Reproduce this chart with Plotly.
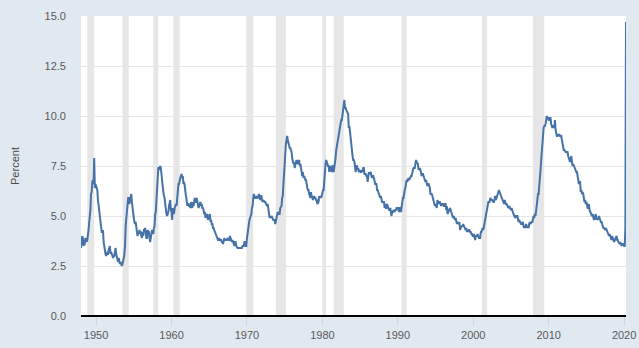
import pandas as pd
import plotly.graph_objects as go

# Civilian unemployment rate, monthly, seasonally adjusted (percent)
rate_1948_1959 = [
    [3.4, 3.8, 4.0, 3.9, 3.5, 3.6, 3.6, 3.9, 3.8, 3.7, 3.8, 4.0],
    [4.3, 4.7, 5.0, 5.3, 6.1, 6.2, 6.7, 6.8, 6.6, 7.9, 6.4, 6.6],
    [6.5, 6.4, 6.3, 5.8, 5.5, 5.4, 5.0, 4.5, 4.4, 4.2, 4.2, 4.3],
    [3.7, 3.4, 3.4, 3.1, 3.0, 3.2, 3.1, 3.1, 3.3, 3.5, 3.5, 3.1],
    [3.2, 3.1, 2.9, 2.9, 3.0, 3.0, 3.2, 3.4, 3.1, 3.0, 2.8, 2.7],
    [2.9, 2.6, 2.6, 2.7, 2.5, 2.5, 2.6, 2.7, 2.9, 3.1, 3.5, 4.5],
    [4.9, 5.2, 5.7, 5.9, 5.9, 5.6, 5.8, 6.0, 6.1, 5.7, 5.3, 5.0],
    [4.9, 4.7, 4.6, 4.7, 4.3, 4.2, 4.0, 4.2, 4.1, 4.3, 4.2, 4.2],
    [4.0, 3.9, 4.2, 4.0, 4.3, 4.3, 4.4, 4.1, 3.9, 3.9, 4.3, 4.2],
    [4.2, 3.9, 3.7, 3.9, 4.1, 4.3, 4.2, 4.1, 4.4, 4.5, 5.1, 5.2],
    [5.8, 6.4, 6.7, 7.4, 7.4, 7.3, 7.5, 7.4, 7.1, 6.7, 6.2, 6.2],
    [6.0, 5.9, 5.6, 5.2, 5.1, 5.0, 5.1, 5.2, 5.5, 5.7, 5.8, 5.3],
]
rate_1960_1969 = [
    [5.2, 4.8, 5.4, 5.2, 5.1, 5.4, 5.5, 5.6, 5.5, 6.1, 6.1, 6.6],
    [6.6, 6.9, 6.9, 7.0, 7.1, 6.9, 7.0, 6.6, 6.7, 6.5, 6.1, 6.0],
    [5.8, 5.5, 5.6, 5.6, 5.5, 5.5, 5.4, 5.7, 5.6, 5.4, 5.7, 5.5],
    [5.7, 5.9, 5.7, 5.7, 5.9, 5.6, 5.6, 5.4, 5.5, 5.5, 5.7, 5.5],
    [5.6, 5.4, 5.4, 5.3, 5.1, 5.2, 4.9, 5.0, 5.1, 5.1, 4.8, 5.0],
    [4.9, 5.1, 4.7, 4.8, 4.6, 4.6, 4.4, 4.4, 4.3, 4.2, 4.1, 4.0],
    [4.0, 3.8, 3.8, 3.8, 3.9, 3.8, 3.8, 3.8, 3.7, 3.7, 3.6, 3.8],
    [3.9, 3.8, 3.8, 3.8, 3.8, 3.9, 3.8, 3.8, 3.8, 4.0, 3.9, 3.8],
    [3.7, 3.8, 3.7, 3.5, 3.5, 3.7, 3.7, 3.5, 3.4, 3.4, 3.4, 3.4],
    [3.4, 3.4, 3.4, 3.4, 3.4, 3.5, 3.5, 3.5, 3.7, 3.7, 3.5, 3.5],
]
rate_1970_1979 = [
    [3.9, 4.2, 4.4, 4.6, 4.8, 4.9, 5.0, 5.1, 5.4, 5.5, 5.9, 6.1],
    [5.9, 5.9, 6.0, 5.9, 5.9, 5.9, 6.0, 6.1, 6.0, 5.8, 6.0, 6.0],
    [5.8, 5.7, 5.8, 5.7, 5.7, 5.7, 5.6, 5.6, 5.5, 5.6, 5.3, 5.2],
    [4.9, 5.0, 4.9, 5.0, 4.9, 4.9, 4.8, 4.8, 4.8, 4.6, 4.8, 4.9],
    [5.1, 5.2, 5.1, 5.1, 5.1, 5.4, 5.5, 5.5, 5.9, 6.0, 6.6, 7.2],
    [8.1, 8.1, 8.6, 8.8, 9.0, 8.8, 8.6, 8.4, 8.4, 8.4, 8.3, 8.2],
    [7.9, 7.7, 7.6, 7.7, 7.4, 7.6, 7.8, 7.8, 7.6, 7.7, 7.8, 7.8],
    [7.5, 7.6, 7.4, 7.2, 7.0, 7.2, 6.9, 7.0, 6.8, 6.8, 6.8, 6.4],
    [6.4, 6.3, 6.3, 6.1, 6.0, 5.9, 6.2, 5.9, 6.0, 5.8, 5.9, 6.0],
    [5.9, 5.9, 5.8, 5.8, 5.6, 5.7, 5.7, 6.0, 5.9, 6.0, 5.9, 6.0],
]
rate_1980_1989 = [
    [6.3, 6.3, 6.3, 6.9, 7.5, 7.6, 7.8, 7.7, 7.5, 7.5, 7.5, 7.2],
    [7.5, 7.4, 7.4, 7.2, 7.5, 7.5, 7.2, 7.4, 7.6, 7.9, 8.3, 8.5],
    [8.6, 8.9, 9.0, 9.3, 9.4, 9.6, 9.8, 9.8, 10.1, 10.4, 10.8, 10.8],
    [10.4, 10.4, 10.3, 10.2, 10.1, 10.1, 9.4, 9.5, 9.2, 8.8, 8.5, 8.3],
    [8.0, 7.8, 7.8, 7.7, 7.4, 7.2, 7.5, 7.5, 7.3, 7.4, 7.2, 7.3],
    [7.3, 7.2, 7.2, 7.3, 7.2, 7.4, 7.4, 7.1, 7.1, 7.1, 7.0, 7.0],
    [6.7, 7.2, 7.2, 7.1, 7.2, 7.2, 7.0, 6.9, 7.0, 7.0, 6.9, 6.6],
    [6.6, 6.6, 6.6, 6.3, 6.3, 6.2, 6.1, 6.0, 5.9, 6.0, 5.8, 5.7],
    [5.7, 5.7, 5.7, 5.4, 5.6, 5.4, 5.4, 5.6, 5.4, 5.4, 5.3, 5.3],
    [5.4, 5.2, 5.0, 5.2, 5.2, 5.3, 5.2, 5.2, 5.3, 5.3, 5.4, 5.4],
]
rate_1990_1999 = [
    [5.4, 5.3, 5.2, 5.4, 5.4, 5.2, 5.5, 5.7, 5.9, 5.9, 6.2, 6.3],
    [6.4, 6.6, 6.8, 6.7, 6.9, 6.9, 6.8, 6.9, 6.9, 7.0, 7.0, 7.3],
    [7.3, 7.4, 7.4, 7.4, 7.6, 7.8, 7.7, 7.6, 7.6, 7.3, 7.4, 7.4],
    [7.3, 7.1, 7.0, 7.1, 7.1, 7.0, 6.9, 6.8, 6.7, 6.8, 6.6, 6.5],
    [6.6, 6.6, 6.5, 6.4, 6.1, 6.1, 6.1, 6.0, 5.9, 5.8, 5.6, 5.5],
    [5.6, 5.4, 5.4, 5.8, 5.6, 5.6, 5.7, 5.7, 5.6, 5.5, 5.6, 5.6],
    [5.6, 5.5, 5.5, 5.6, 5.6, 5.3, 5.5, 5.1, 5.2, 5.2, 5.4, 5.4],
    [5.3, 5.2, 5.2, 5.1, 4.9, 5.0, 4.9, 4.8, 4.9, 4.7, 4.6, 4.7],
    [4.6, 4.6, 4.7, 4.3, 4.4, 4.5, 4.5, 4.5, 4.6, 4.5, 4.4, 4.4],
    [4.3, 4.4, 4.2, 4.3, 4.2, 4.3, 4.3, 4.2, 4.2, 4.1, 4.1, 4.0],
]
rate_2000_2009 = [
    [4.0, 4.1, 4.0, 3.8, 4.0, 4.0, 4.0, 4.1, 3.9, 3.9, 3.9, 3.9],
    [4.2, 4.2, 4.3, 4.4, 4.3, 4.5, 4.6, 4.9, 5.0, 5.3, 5.5, 5.7],
    [5.7, 5.7, 5.7, 5.9, 5.8, 5.8, 5.8, 5.7, 5.7, 5.7, 5.9, 6.0],
    [5.8, 5.9, 5.9, 6.0, 6.1, 6.3, 6.2, 6.1, 6.1, 6.0, 5.8, 5.7],
    [5.7, 5.6, 5.8, 5.6, 5.6, 5.6, 5.5, 5.4, 5.4, 5.5, 5.4, 5.4],
    [5.3, 5.4, 5.2, 5.2, 5.1, 5.0, 5.0, 4.9, 5.0, 5.0, 5.0, 4.9],
    [4.7, 4.8, 4.7, 4.7, 4.6, 4.6, 4.7, 4.7, 4.5, 4.4, 4.5, 4.4],
    [4.6, 4.5, 4.4, 4.5, 4.4, 4.6, 4.7, 4.6, 4.7, 4.7, 4.7, 5.0],
    [5.0, 4.9, 5.1, 5.0, 5.4, 5.6, 5.8, 6.1, 6.1, 6.5, 6.8, 7.3],
    [7.8, 8.3, 8.7, 9.0, 9.4, 9.5, 9.5, 9.6, 9.8, 10.0, 9.9, 9.9],
]
rate_2010_2020 = [
    [9.8, 9.8, 9.9, 9.9, 9.6, 9.4, 9.4, 9.5, 9.5, 9.4, 9.8, 9.3],
    [9.1, 9.0, 9.0, 9.1, 9.0, 9.1, 9.0, 9.0, 9.0, 8.8, 8.6, 8.5],
    [8.3, 8.3, 8.2, 8.2, 8.2, 8.2, 8.2, 8.0, 7.8, 7.8, 7.7, 7.9],
    [8.0, 7.7, 7.5, 7.6, 7.5, 7.5, 7.3, 7.2, 7.2, 7.2, 6.9, 6.7],
    [6.6, 6.7, 6.7, 6.2, 6.3, 6.1, 6.2, 6.1, 5.9, 5.7, 5.8, 5.6],
    [5.7, 5.5, 5.4, 5.4, 5.6, 5.3, 5.2, 5.1, 5.0, 5.0, 5.1, 5.0],
    [4.8, 4.9, 5.0, 5.1, 4.8, 4.9, 4.8, 4.9, 5.0, 4.9, 4.7, 4.7],
    [4.7, 4.6, 4.4, 4.4, 4.4, 4.3, 4.3, 4.4, 4.3, 4.2, 4.2, 4.1],
    [4.0, 4.1, 4.0, 4.0, 3.8, 4.0, 3.8, 3.8, 3.7, 3.8, 3.8, 3.9],
    [4.0, 3.8, 3.8, 3.7, 3.6, 3.6, 3.7, 3.6, 3.5, 3.6, 3.6, 3.6],
    [3.5, 3.5, 4.4, 14.7],
]

# NBER recession periods (peak month, trough month)
recessions = [
    ("1948-11-01", "1949-10-01"),
    ("1953-07-01", "1954-05-01"),
    ("1957-08-01", "1958-04-01"),
    ("1960-04-01", "1961-02-01"),
    ("1969-12-01", "1970-11-01"),
    ("1973-11-01", "1975-03-01"),
    ("1980-01-01", "1980-07-01"),
    ("1981-07-01", "1982-11-01"),
    ("1990-07-01", "1991-03-01"),
    ("2001-03-01", "2001-11-01"),
    ("2007-12-01", "2009-06-01"),
]

x_tick_years = [1950, 1960, 1970, 1980, 1990, 2000, 2010, 2020]
y_tick_values = [0.0, 2.5, 5.0, 7.5, 10.0, 12.5, 15.0]

values = [v
          for block in (rate_1948_1959, rate_1960_1969, rate_1970_1979,
                        rate_1980_1989, rate_1990_1999, rate_2000_2009,
                        rate_2010_2020)
          for year in block for v in year]
dates = pd.date_range("1948-01-01", periods=len(values), freq="MS")

fig = go.Figure()
fig.add_trace(go.Scatter(
    x=dates, y=values, mode="lines",
    line=dict(color="#4572a7", width=2),
    hoverinfo="x+y", showlegend=False,
))

for start, end in recessions:
    fig.add_shape(type="rect", xref="x", yref="paper",
                  x0=start, x1=end, y0=0, y1=1,
                  fillcolor="#e6e6e6", line_width=0, layer="below")

font_family = "Liberation Sans, Arial, Helvetica, sans-serif"
label_color = "#595959"

fig.update_layout(
    width=639, height=348,
    margin=dict(l=81, r=13, t=16, b=32),
    paper_bgcolor="#e1e9f0",
    plot_bgcolor="#ffffff",
    font=dict(family=font_family, size=11, color=label_color),
    xaxis=dict(
        range=["1948-01-01", "2020-04-01"],
        tickvals=[f"{y}-01-01" for y in x_tick_years],
        ticktext=[str(y) for y in x_tick_years],
        showgrid=False, zeroline=False,
        ticks="outside", ticklen=9, tickwidth=1, tickcolor="#ccd6eb",
        showline=False, automargin=False,
        tickfont=dict(size=11, color=label_color),
    ),
    yaxis=dict(
        range=[0, 15],
        tickvals=y_tick_values,
        tickformat=".1f",
        showgrid=True, gridcolor="#e6e6e6", gridwidth=1,
        zeroline=True, zerolinecolor="#000000", zerolinewidth=2,
        showline=False, ticks="", automargin=False,
        ticklabelstandoff=14,
        title=dict(text="Percent", standoff=22,
                   font=dict(size=11, color="#4d4d4d")),
        tickfont=dict(size=11, color=label_color),
    ),
)

fig.write_html("out.html")
